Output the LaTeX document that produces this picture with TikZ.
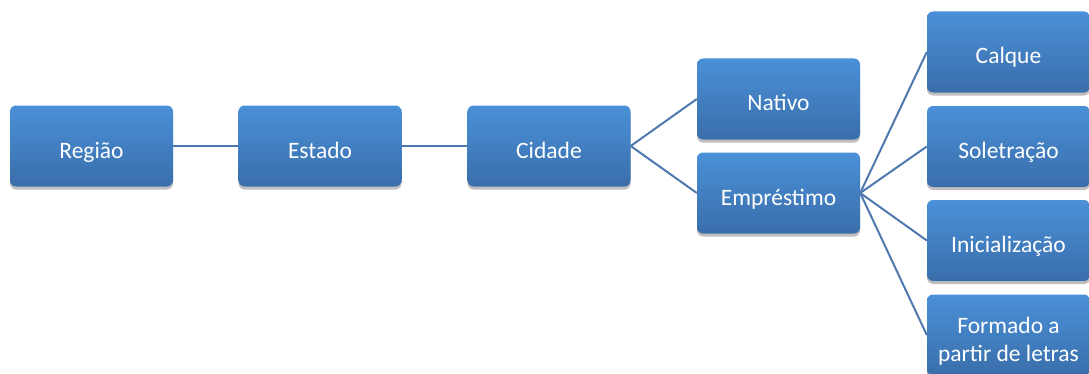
\documentclass[tikz,border=0pt]{standalone}
\usepackage{fontspec}
\setmainfont{Carlito}
\usetikzlibrary{shadows}
\definecolor{boxtop}{HTML}{4A90D8}
\definecolor{boxbot}{HTML}{3A6EAA}
\definecolor{linec}{HTML}{4E79AE}
\tikzset{
  box/.style={rounded corners=6pt, minimum width=163pt, minimum height=81pt,
    top color=boxtop, bottom color=boxbot, draw=none, text=white,
    font=\fontsize{23.5}{28}\selectfont, align=center, inner sep=0pt,
    text height=24pt, text depth=0pt,
    drop shadow={shadow xshift=0pt, shadow yshift=-3pt, opacity=0.25, fill=black}},
  twoline/.style={text height=52pt, text depth=0pt},
  conn/.style={draw=linec, line width=2pt}
}
\begin{document}
\begin{tikzpicture}[x=1pt,y=1pt]
\useasboundingbox (0,0) rectangle (1089,373);
\node[box] (regiao) at (91.5,227) {Região};
\node[box] (estado) at (320,227) {Estado};
\node[box] (cidade) at (549,227) {Cidade};
\node[box] (nativo) at (778.5,274) {Nativo};
\node[box] (emp) at (778.5,180) {Empréstimo};
\node[box] (calque) at (1008.5,321) {Calque};
\node[box] (sol) at (1008.5,226.5) {Soletração};
\node[box] (ini) at (1008.5,132.5) {Inicialização};
\node[box, twoline] (form) at (1008.5,38) {Formado a\\partir de letras};
\draw[conn] (regiao.east) -- (estado.west);
\draw[conn] (estado.east) -- (cidade.west);
\draw[conn] (cidade.east) -- (nativo.west);
\draw[conn] (cidade.east) -- (emp.west);
\draw[conn] (emp.east) -- (calque.west);
\draw[conn] (emp.east) -- (sol.west);
\draw[conn] (emp.east) -- (ini.west);
\draw[conn] (emp.east) -- (form.west);
\end{tikzpicture}
\end{document}
